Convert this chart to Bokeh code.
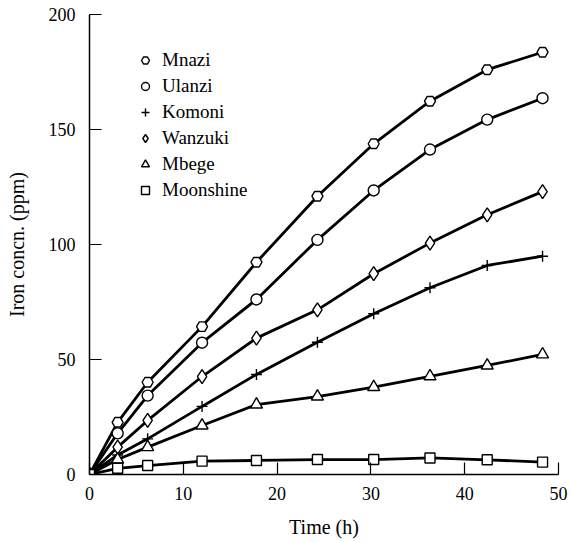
from bokeh.plotting import figure
from bokeh.models import Legend, LegendItem, Range1d, FixedTicker
from bokeh.embed import file_html
from bokeh.resources import INLINE

# Data
time_h = [0, 3, 6.2, 12, 17.8, 24.3, 30.3, 36.3, 42.4, 48.3]
mnazi = [0, 22.7, 40.1, 64.3, 92.3, 121.0, 143.8, 162.3, 176.0, 183.6]
ulanzi = [0, 17.9, 34.3, 57.3, 76.1, 102.0, 123.5, 141.3, 154.3, 163.6]
komoni = [0, 8.5, 15.5, 29.6, 43.5, 57.5, 69.9, 81.2, 90.9, 94.9]
wanzuki = [0, 11.9, 23.5, 42.6, 59.3, 71.6, 87.3, 100.6, 112.9, 123.0]
mbege = [0, 6.5, 11.9, 21.3, 30.4, 33.9, 38.0, 42.7, 47.4, 52.2]
moonshine = [0, 2.7, 3.9, 5.8, 6.1, 6.5, 6.5, 7.2, 6.4, 5.4]

series_names = ["Mnazi", "Ulanzi", "Komoni", "Wanzuki", "Mbege", "Moonshine"]
series_values = [mnazi, ulanzi, komoni, wanzuki, mbege, moonshine]
markers = ["hex", "circle", "cross", "diamond", "triangle", "square"]
sizes = [11, 11, 11, 14, 12, 10]

x_ticks = [0, 10, 20, 30, 40, 50]
y_ticks = [0, 50, 100, 150, 200]

FONT = "Liberation Serif"

p = figure(width=571, height=542, output_backend="svg", toolbar_location=None,
           x_range=Range1d(0, 50), y_range=Range1d(0, 200),
           min_border_left=89, min_border_right=13, min_border_top=14, min_border_bottom=68)
p.outline_line_color = None
p.grid.visible = False
p.background_fill_color = "white"
p.border_fill_color = "white"

for ax in (p.xaxis[0], p.yaxis[0]):
    ax.axis_line_color = "black"
    ax.axis_line_width = 1.5
    ax.major_tick_in = 12
    ax.major_tick_out = 0
    ax.major_tick_line_color = "black"
    ax.major_tick_line_width = 1.2
    ax.minor_tick_line_color = None
    ax.major_label_text_font = FONT
    ax.major_label_text_font_size = "18px"
    ax.major_label_text_color = "black"
    ax.axis_label_text_font = FONT
    ax.axis_label_text_font_size = "20px"
    ax.axis_label_text_font_style = "normal"
    ax.axis_label_text_color = "black"

p.xaxis.ticker = FixedTicker(ticks=x_ticks)
p.yaxis.ticker = FixedTicker(ticks=y_ticks)
p.xaxis.axis_label = "Time (h)"
p.yaxis.axis_label = "Iron concn. (ppm)"
p.xaxis.major_label_standoff = 12
p.yaxis.major_label_standoff = 14
p.xaxis.axis_label_standoff = 13
p.yaxis.axis_label_standoff = 18

items = []
for name, vals, mk, sz in zip(series_names, series_values, markers, sizes):
    p.line(time_h, vals, line_color="black", line_width=2.8)
    r = p.scatter(time_h, vals, marker=mk, size=sz, fill_color="white",
                  line_color="black", line_width=1.4)
    items.append(LegendItem(label=name, renderers=[r]))

legend = Legend(items=items, location=(46, 273), orientation="vertical",
                border_line_color=None, background_fill_alpha=0,
                padding=0, margin=0, spacing=4,
                glyph_width=20, glyph_height=20, label_height=20,
                label_standoff=7,
                label_text_font=FONT, label_text_font_size="19px",
                label_text_color="black")
p.add_layout(legend, "center")

open("out.html", "w").write(file_html(p, INLINE))
